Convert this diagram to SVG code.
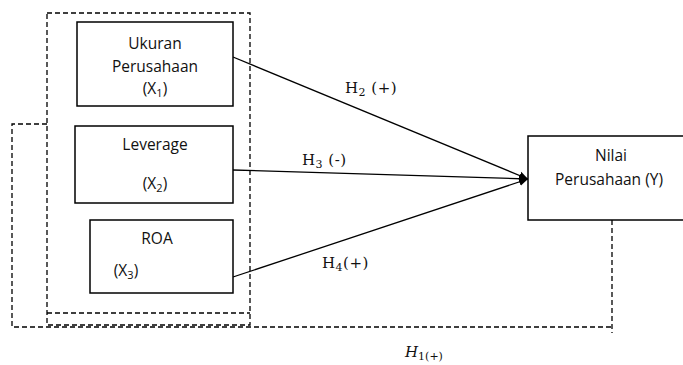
<svg xmlns="http://www.w3.org/2000/svg" width="683" height="365" viewBox="0 0 683 365">
<defs>
<marker id="arr" viewBox="0 0 10 10" refX="10" refY="5" markerWidth="9" markerHeight="9" markerUnits="userSpaceOnUse" orient="auto">
<path d="M0,0.5 L10,5 L0,9.5 Z" fill="#000"/>
</marker>
<style>
.box{fill:#fff;stroke:#000;stroke-width:1.5}
.dash{fill:none;stroke:#000;stroke-width:1.3;stroke-dasharray:5,3}
.edge{stroke:#000;stroke-width:1.3;fill:none}
.t{font-family:"Open Sans","Liberation Sans",sans-serif;font-size:15.5px;fill:#111;text-anchor:middle}
.h{font-family:"DejaVu Serif","Liberation Serif",serif;font-size:15px;fill:#111;letter-spacing:0.5px}
.sub{font-size:11px}
</style>
</defs>
<g id="frame">
<rect class="dash" x="47" y="13" width="203" height="312"/>
<line class="dash" x1="47" y1="313" x2="250" y2="313"/>
<polyline class="dash" points="47,124 12,124 12,327 612,327"/>
<line class="dash" x1="612" y1="220" x2="612" y2="333"/>
</g>
<g id="edges">
<line class="edge" x1="233" y1="57" x2="528" y2="179" marker-end="url(#arr)"/>
<line class="edge" x1="233" y1="170" x2="528" y2="179" marker-end="url(#arr)"/>
<line class="edge" x1="233" y1="277" x2="528" y2="179" marker-end="url(#arr)"/>
</g>
<g id="x1">
<rect class="box" x="77" y="22" width="156" height="84"/>
<text class="t" x="155" y="49">Ukuran</text>
<text class="t" x="155" y="72">Perusahaan</text>
<text class="t" x="155" y="94">(X<tspan class="sub" dy="3">1</tspan><tspan dy="-3">)</tspan></text>
</g>
<g id="x2">
<rect class="box" x="75" y="126" width="158" height="77"/>
<text class="t" x="155" y="150">Leverage</text>
<text class="t" x="155" y="189">(X<tspan class="sub" dy="3">2</tspan><tspan dy="-3">)</tspan></text>
</g>
<g id="x3">
<rect class="box" x="90" y="220" width="143" height="73"/>
<text class="t" x="157" y="244">ROA</text>
<text class="t" x="126" y="276">(X<tspan class="sub" dy="3">3</tspan><tspan dy="-3">)</tspan></text>
</g>
<g id="y">
<rect class="box" x="528" y="136" width="160" height="84"/>
<text class="t" x="611" y="161">Nilai</text>
<text class="t" x="609" y="185">Perusahaan (Y)</text>
</g>
<g id="labels">
<text class="h" x="345" y="93">H<tspan class="sub" dy="3">2</tspan><tspan dy="-3"> (+)</tspan></text>
<text class="h" x="302" y="165">H<tspan class="sub" dy="3">3</tspan><tspan dy="-3"> (-)</tspan></text>
<text class="h" x="322" y="268">H<tspan class="sub" dy="3">4</tspan><tspan dy="-3">(+)</tspan></text>
<text x="405" y="357" font-family="'DejaVu Serif',serif" font-size="15" font-style="italic" fill="#111">H<tspan font-style="normal" font-size="11" dy="3">1(+)</tspan></text>
</g>
</svg>
